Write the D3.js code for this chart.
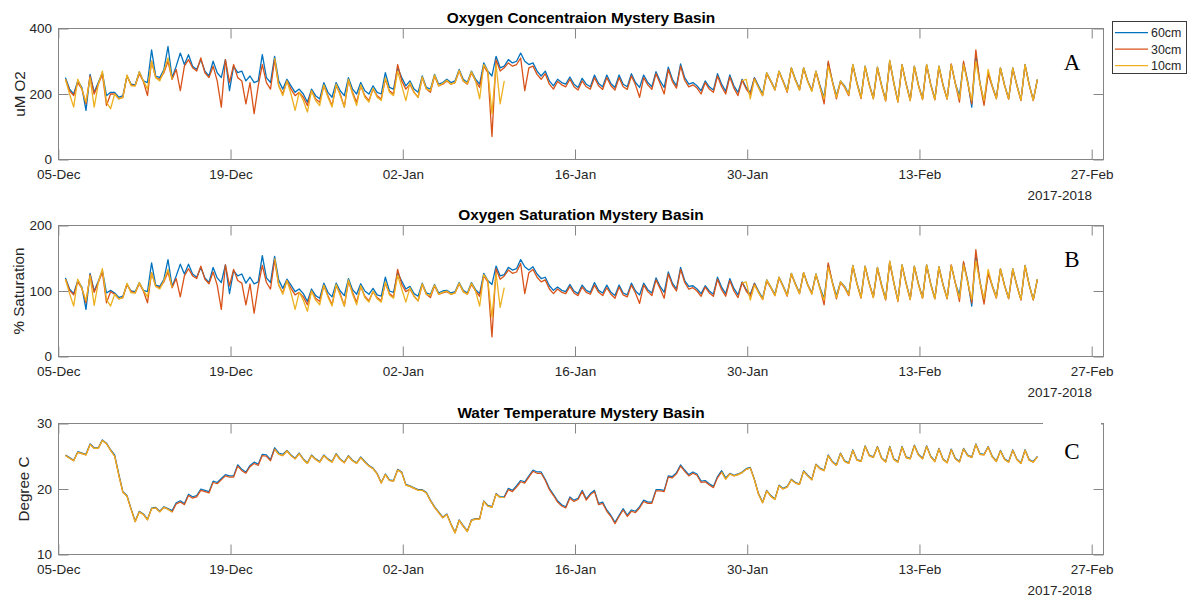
<!DOCTYPE html>
<html>
<head>
<meta charset="utf-8">
<script src="https://cdn.jsdelivr.net/npm/d3@7"></script>
<style>
  body { margin: 0; background: #fff; }
  svg text { font-family: "Liberation Sans", Arial, Helvetica, sans-serif; }
</style>
</head>
<body>
<svg id="chart" width="1192" height="601"></svg>
<script>
// Logger depths, drawn in this order (10cm ends up on top)
const depthNames = ["60cm", "30cm", "10cm"];
const depthColors = ["#0072BD", "#D95319", "#EDB120"];

// Samples every 8 hours starting 5 Dec 2017 14:00
const sampleStart = new Date(2017, 11, 5, 14);
const sampleStepHours = 8;

const dateTicks = [new Date(2017, 11, 5), new Date(2017, 11, 19), new Date(2018, 0, 2),
  new Date(2018, 0, 16), new Date(2018, 0, 30), new Date(2018, 1, 13), new Date(2018, 1, 27)];
const yearLabel = "2017-2018";

const concTicks = [0, 200, 400];
const satTicks = [0, 100, 200];
const tempTicks = [10, 20, 30];

// Dissolved oxygen, uM
const conc60 = [
  250,215,200, 240,220,150, 260,205,235, 265,195,205, 205,190,195, 255,230,228, 268,240,235, 335,255,250, 275,345,250, 285,325,290,
  320,285,275, 305,270,255, 300,265,250, 305,210,285, 265,270,240, 255,235,240, 320,250,235, 315,240,215, 245,225,205, 215,200,175,
  215,195,185, 235,205,190, 235,210,195, 250,215,200, 235,210,200, 225,205,200, 265,220,215, 280,250,225, 240,215,205, 255,220,215,
  260,230,235, 245,235,240, 275,245,235, 270,245,230, 295,270,255, 315,280,285, 305,295,300, 325,300,290, 295,270,255, 270,240,225,
  245,235,230, 252,230,220, 248,230,222, 258,232,222, 258,232,220, 258,230,222, 262,235,220, 258,235,222, 268,240,220, 282,245,225,
  292,250,230, 235,225,210, 240,222,212, 262,230,208, 258,225,205, 245,220,205, 250,225,200, 265,240,215, 270,240,210, 280,245,215,
  280,240,212, 270,225,190, 295,240,195, 240,225,200, 290,235,190, 285,230,188, 282,228,182, 302,235,178, 290,232,182, 285,228,186,
  290,230,185, 285,228,186, 290,232,195, 295,240,160, 320,235,175, 265,225,188, 280,228,186, 280,228,182, 290,230,182, 245
];
const conc30 = [
  245,210,195, 235,215,170, 255,200,230, 260,165,200, 200,185,190, 255,228,225, 262,238,195, 300,250,245, 265,300,245, 275,210,285,
  305,280,270, 310,265,250, 285,240,160, 305,235,290, 250,240,170, 235,140,225, 290,235,215, 305,225,200, 240,215,195, 205,190,165,
  210,185,175, 225,195,165, 225,200,160, 240,205,175, 225,195,180, 215,195,185, 245,210,200, 290,240,215, 230,205,190, 250,215,205,
  255,225,230, 240,230,235, 270,240,230, 265,240,220, 285,265,70, 305,270,280, 295,285,290, 310,210,280, 285,260,245, 262,230,215,
  238,228,222, 245,222,212, 240,222,215, 250,225,214, 250,225,212, 250,222,214, 255,228,190, 250,228,214, 262,232,200, 275,238,218,
  285,242,222, 228,218,200, 235,215,205, 255,222,200, 252,218,195, 242,215,198, 248,220,195, 262,238,212, 268,238,205, 278,242,212,
  278,238,210, 268,222,170, 300,238,185, 238,220,195, 288,232,186, 283,228,185, 280,225,178, 300,232,175, 288,230,180, 283,226,183,
  288,228,182, 283,226,184, 292,232,175, 300,235,170, 335,232,165, 262,222,185, 278,226,184, 278,226,180, 288,228,180, 243
];
const conc10 = [
  245,200,160, 245,215,175, 250,160,230, 270,175,155, 200,185,190, 258,225,225, 268,240,215, 300,250,240, 270,310,245, null,null,null,
  null,null,null, null,null,null, null,null,null, null,null,null, null,null,null, null,null,null, null,null,null, 310,225,195, 240,200,150, 205,180,145,
  210,180,165, 228,190,160, 230,195,160, 245,200,165, 228,190,175, 218,190,180, 250,205,195, 270,225,180, 235,205,190, 252,215,210,
  258,225,232, 242,230,235, 272,240,232, 268,240,185, 290,270,140, 290,170,240, null,null,null, null,null,null, null,null,null, null,null,null,
  null,null,null, null,null,null, null,null,null, null,null,null, null,null,null, null,null,null, null,null,null, null,null,null, null,null,null, null,null,null,
  null,null,null, null,null,null, null,null,null, null,null,null, null,null,null, 240,245,185, 245,220,195, 265,240,212, 270,238,208, 280,242,212,
  280,238,208, 270,220,185, 285,238,190, 240,222,198, 290,232,188, 285,228,186, 282,226,180, 303,234,176, 290,230,180, 285,226,184,
  290,228,183, 285,226,185, 290,232,185, 290,235,180, 300,232,180, 275,224,186, 280,226,185, 280,226,181, 290,228,181, 245
];

// Oxygen saturation, %
const sat60 = [
  120,103,96, 116,106,72, 127,100,115, 131,97,101, 97,90,92, 110,100,99, 113,101,99, 143,109,107, 118,148,107, 123,141,126,
  141,126,121, 136,120,113, 136,120,113, 140,96,131, 123,126,112, 121,111,114, 154,120,113, 153,117,104, 118,109,99, 103,96,84,
  103,93,89, 112,98,91, 112,100,93, 119,102,95, 111,100,95, 104,94,92, 121,100,98, 128,115,103, 107,96,92, 112,97,95,
  110,97,100, 101,97,99, 113,101,97, 113,102,96, 127,116,110, 138,123,125, 136,132,134, 148,137,132, 137,126,119, 121,108,101,
  106,101,99, 110,100,96, 109,101,98, 113,101,97, 109,98,93, 109,97,94, 112,100,94, 112,102,97, 120,107,98, 129,112,103,
  136,116,107, 108,103,96, 108,100,95, 121,106,96, 119,104,94, 114,102,95, 112,100,89, 117,106,95, 121,108,94, 127,111,97,
  128,110,97, 126,105,89, 140,114,93, 114,107,95, 139,112,91, 138,112,91, 136,110,88, 145,113,86, 140,112,88, 138,111,90,
  140,111,89, 137,110,89, 139,112,94, 143,116,77, 156,115,85, 128,109,91, 134,109,89, 134,109,87, 139,110,87, 118
];
const sat30 = [
  118,101,94, 114,104,82, 125,98,113, 129,82,99, 95,88,90, 110,99,97, 111,100,82, 128,107,105, 114,129,105, 119,91,123,
  134,123,119, 138,118,111, 129,109,72, 140,108,133, 116,112,79, 111,66,107, 139,113,103, 148,109,97, 116,104,94, 98,91,79,
  100,89,84, 108,93,79, 108,96,77, 114,98,83, 107,92,85, 99,90,85, 112,96,91, 133,110,99, 103,92,85, 110,95,90,
  108,95,97, 99,95,97, 111,99,95, 110,100,92, 123,114,30, 134,118,123, 132,127,129, 142,96,128, 133,121,114, 117,103,96,
  103,98,96, 107,97,93, 106,98,95, 109,98,93, 105,95,89, 106,94,91, 109,97,81, 109,99,93, 117,104,89, 126,109,100,
  133,113,103, 105,100,92, 106,97,92, 118,102,92, 116,100,90, 113,100,92, 111,98,87, 115,105,93, 120,107,92, 126,110,96,
  128,109,96, 125,104,79, 143,113,88, 113,105,93, 138,111,89, 137,111,90, 135,108,86, 144,112,84, 139,111,87, 137,110,89,
  139,110,88, 136,109,88, 140,112,84, 145,114,82, 163,113,80, 127,107,89, 133,108,88, 133,108,86, 138,109,86, 117
];
const sat10 = [
  118,96,77, 118,104,85, 123,78,113, 134,87,77, 95,88,90, 112,97,97, 113,101,91, 128,107,103, 116,133,105, null,null,null,
  null,null,null, null,null,null, null,null,null, null,null,null, null,null,null, null,null,null, null,null,null, 150,109,95, 116,97,72, 98,86,69,
  100,86,79, 109,91,77, 110,93,77, 117,95,79, 108,90,83, 100,88,83, 114,94,89, 124,103,83, 105,92,85, 111,95,93,
  109,95,98, 100,95,97, 112,99,95, 112,100,77, 125,116,60, 127,75,105, null,null,null, null,null,null, null,null,null, null,null,null,
  null,null,null, null,null,null, null,null,null, null,null,null, null,null,null, null,null,null, null,null,null, null,null,null, null,null,null, null,null,null,
  null,null,null, null,null,null, null,null,null, null,null,null, null,null,null, 112,114,86, 109,98,87, 117,106,93, 121,107,93, 127,110,96,
  128,109,95, 126,103,86, 136,113,90, 114,106,94, 139,111,90, 138,111,90, 136,109,87, 146,113,85, 140,111,87, 138,110,89,
  140,110,88, 137,109,89, 139,112,89, 140,114,87, 146,113,88, 133,108,90, 134,108,89, 134,108,87, 139,109,87, 118
];

// Water temperature, degrees C
const temp60 = [
  25.2,24.8,24.4, 25.7,25.5,25.3, 26.9,26.3,26.3, 27.5,27.0,26.0, 25.2,22.3,19.6, 19.0,17.0,15.1, 16.6,16.2,15.4, 17.1,17.2,16.6, 17.3,17.0,16.7, 17.9,18.2,17.8,
  19.2,18.8,19.0, 20.0,19.8,19.6, 21.2,21.0,21.6, 22.2,22.0,22.0, 23.7,23.0,22.6, 23.6,24.1,23.8, 25.3,25.2,24.5, 26.3,25.5,25.3, 25.9,25.2,24.7, 25.5,24.6,24.0,
  25.2,24.6,24.2, 25.2,24.6,24.2, 25.4,24.6,24.1, 25.1,24.4,24.0, 24.9,24.2,23.6, 23.2,22.4,21.0, 22.3,21.4,21.3, 23.0,22.6,20.7, 20.5,20.2,19.9, 19.9,19.5,18.3,
  17.3,16.5,15.7, 16.2,14.7,13.4, 15.3,14.4,13.6, 15.3,15.5,15.5, 18.2,17.5,17.3, 19.3,18.8,18.8, 20.1,19.8,20.5, 21.3,21.1,22.0, 22.9,22.6,22.6, 21.5,20.1,19.2,
  18.2,17.6,17.3, 18.8,18.3,18.6, 19.8,18.5,19.3, 19.8,17.8,18.0, 16.8,16.0,14.9, 16.0,17.0,16.0, 16.8,16.6,17.3, 18.3,18.0,18.0, 19.9,19.9,19.8, 22.0,21.9,22.5,
  23.7,22.9,22.2, 22.6,22.3,21.2, 21.3,20.8,20.4, 21.9,22.8,21.7, 22.4,22.1,22.3, 22.6,23.1,23.3, 21.5,19.3,18.0, 19.8,19.0,18.5, 20.6,20.1,20.4, 21.5,21.0,20.8,
  22.8,22.1,21.5, 23.8,23.2,22.9, 25.2,24.2,23.7, 25.5,24.3,24.0, 26.0,24.5,24.3, 26.6,25.2,24.9, 26.5,24.8,24.2, 26.5,24.6,24.2, 26.5,24.9,24.7, 26.7,25.3,24.7,
  26.6,25.0,24.3, 26.2,24.6,24.1, 26.1,24.7,24.2, 26.2,25.2,24.9, 26.9,25.4,25.3, 26.5,25.0,24.3, 25.9,24.6,24.2, 26.0,24.6,24.0, 26.0,24.5,24.2, 25.0
];
const temp30 = [
  25.1,24.7,24.3, 25.6,25.4,25.2, 26.8,26.2,26.2, 27.4,26.9,25.9, 25.0,22.1,19.5, 18.9,16.9,15.0, 16.5,16.1,15.3, 17.0,17.1,16.5, 17.2,16.9,16.5, 17.7,18.0,17.6,
  19.0,18.6,18.8, 19.8,19.6,19.4, 21.0,20.8,21.4, 22.0,21.8,21.8, 23.5,22.8,22.4, 23.4,23.9,23.6, 25.1,25.0,24.3, 26.1,25.3,25.1, 25.8,25.1,24.6, 25.4,24.5,23.9,
  25.1,24.5,24.1, 25.1,24.5,24.1, 25.3,24.5,24.0, 25.0,24.3,23.9, 24.8,24.1,23.5, 23.1,22.3,20.9, 22.2,21.3,21.2, 22.9,22.5,20.6, 20.4,20.1,19.8, 19.8,19.4,18.2,
  17.2,16.4,15.6, 16.1,14.6,13.3, 15.2,14.3,13.5, 15.2,15.4,15.4, 18.1,17.4,17.2, 19.2,18.7,18.7, 19.9,19.6,20.3, 21.1,20.9,21.8, 22.7,22.4,22.4, 21.3,19.9,19.0,
  18.0,17.4,17.1, 18.6,18.1,18.4, 19.6,18.3,19.1, 19.6,17.6,17.8, 16.6,15.8,14.7, 15.8,16.8,15.8, 16.6,16.4,17.1, 18.1,17.8,17.8, 19.7,19.7,19.6, 21.8,21.7,22.3,
  23.5,22.7,22.0, 22.4,22.1,21.0, 21.1,20.6,20.2, 21.7,22.6,21.5, 22.3,22.0,22.2, 22.5,23.0,23.2, 21.4,19.2,17.9, 19.7,18.9,18.4, 20.5,20.0,20.3, 21.4,20.9,20.7,
  22.7,22.0,21.4, 23.7,23.1,22.8, 25.1,24.1,23.6, 25.4,24.2,23.9, 25.9,24.4,24.2, 26.5,25.1,24.8, 26.4,24.7,24.1, 26.4,24.5,24.1, 26.4,24.8,24.6, 26.6,25.2,24.6,
  26.5,24.9,24.2, 26.1,24.5,24.0, 26.0,24.6,24.1, 26.1,25.1,24.8, 26.8,25.3,25.2, 26.4,24.9,24.2, 25.8,24.5,24.1, 25.9,24.5,23.9, 25.9,24.4,24.1, 24.9
];
const temp10 = [
  25.1,24.7,24.3, 25.6,25.4,25.2, 26.8,26.2,26.2, 27.4,26.9,25.9, 25.0,22.1,19.5, 18.9,16.9,15.0, 16.5,16.1,15.3, 17.0,17.1,16.5, 17.2,16.9,16.5, null,null,null,
  null,null,null, null,null,null, null,null,null, null,null,null, null,null,null, null,null,null, null,null,null, 26.1,25.3,25.1, 25.8,25.1,24.6, 25.4,24.5,23.9,
  25.1,24.5,24.1, 25.1,24.5,24.1, 25.3,24.5,24.0, 25.0,24.3,23.9, 24.8,24.1,23.5, 23.1,22.3,20.9, 22.2,21.3,21.2, 22.9,22.5,20.6, 20.4,20.1,19.8, 19.8,19.4,18.2,
  17.2,16.4,15.6, 16.1,14.6,13.3, 15.2,14.3,13.5, 15.2,15.4,15.4, 18.1,17.4,17.2, 19.2,18.7,18.7, null,null,null, null,null,null, null,null,null, null,null,null,
  null,null,null, null,null,null, null,null,null, null,null,null, null,null,null, null,null,null, null,null,null, null,null,null, null,null,null, null,null,null,
  null,null,null, null,null,null, null,null,null, null,22.6,21.5, 22.3,22.0,22.2, 22.5,23.0,23.2, 21.4,19.2,17.9, 19.7,18.9,18.4, 20.5,20.0,20.3, 21.4,20.9,20.7,
  22.7,22.0,21.4, 23.7,23.1,22.8, 25.1,24.1,23.6, 25.4,24.2,23.9, 25.9,24.4,24.2, 26.5,25.1,24.8, 26.4,24.7,24.1, 26.4,24.5,24.1, 26.4,24.8,24.6, 26.6,25.2,24.6,
  26.5,24.9,24.2, 26.1,24.5,24.0, 26.0,24.6,24.1, 26.1,25.1,24.8, 26.8,25.3,25.2, 26.4,24.9,24.2, 25.8,24.5,24.1, 25.9,24.5,23.9, 25.9,24.4,24.1, 24.9
];

// ---- layout ----
const svg = d3.select("#chart");
svg.append("rect").attr("width", 1192).attr("height", 601).attr("fill", "#fff");

const left = 58.5, right = 1103.5;
const x = d3.scaleTime()
  .domain([new Date(2017, 11, 5), new Date(2018, 1, 28)])
  .range([58.3, 1104]);

const frameColor = "#858585";
const labelColor = "#262626";

const panels = [
  { top: 28.5, bottom: 159.5, title: "Oxygen Concentraion Mystery Basin", ylabel: "uM O2", ylabelX: 25,
    domain: [0, 400], ticks: concTicks, series: [conc60, conc30, conc10], letter: "A", letterY: 69.5, lineWidth: 1.3 },
  { top: 225.5, bottom: 356.5, title: "Oxygen Saturation Mystery Basin", ylabel: "% Saturation", ylabelX: 23.5,
    domain: [0, 200], ticks: satTicks, series: [sat60, sat30, sat10], letter: "B", letterY: 266.5, lineWidth: 1.3 },
  { top: 423.5, bottom: 554.5, title: "Water Temperature Mystery Basin", ylabel: "Degree C", ylabelX: 28.5,
    domain: [10, 30], ticks: tempTicks, series: [temp60, temp30, temp10], letter: "C", letterY: 459, lineWidth: 1.2, coverTop: true }
];

const timeAt = i => new Date(sampleStart.getTime() + i * sampleStepHours * 3600 * 1000);
const fmt = d3.timeFormat("%d-%b");

panels.forEach(p => {
  const y = d3.scaleLinear().domain(p.domain).range([p.bottom, p.top]);
  const g = svg.append("g");

  // data lines
  const line = d3.line()
    .defined(d => d != null)
    .x((d, i) => x(timeAt(i)))
    .y(d => y(d));
  p.series.forEach((vals, k) => {
    g.append("path")
      .datum(vals)
      .attr("fill", "none")
      .attr("stroke", depthColors[k])
      .attr("stroke-width", p.lineWidth)
      .attr("stroke-linejoin", "round")
      .attr("d", line);
  });

  // bottom axis with labels, inward ticks
  const bx = g.append("g").attr("transform", `translate(0,${p.bottom})`)
    .call(d3.axisBottom(x).tickValues(dateTicks).tickFormat(fmt)
      .tickSizeInner(-10).tickSizeOuter(0).tickPadding(10));
  // top mirrored ticks
  const tx = g.append("g").attr("transform", `translate(0,${p.top})`)
    .call(d3.axisTop(x).tickValues(dateTicks).tickFormat("")
      .tickSizeInner(-10).tickSizeOuter(0));
  const ly = g.append("g").attr("transform", `translate(${left},0)`)
    .call(d3.axisLeft(y).tickValues(p.ticks).tickFormat(d3.format("d"))
      .tickSizeInner(-10).tickSizeOuter(0).tickPadding(6.5));
  const ry = g.append("g").attr("transform", `translate(${right},0)`)
    .call(d3.axisRight(y).tickValues(p.ticks).tickFormat("")
      .tickSizeInner(-10).tickSizeOuter(0));
  [bx, tx, ly, ry].forEach(a => {
    a.select(".domain").remove();
    a.selectAll(".tick line").attr("stroke", frameColor).attr("stroke-width", 1);
    a.selectAll(".tick text")
      .attr("fill", labelColor)
      .style("font-size", "13.5px")
      .style("font-family", '"Liberation Sans", Arial, sans-serif');
  });

  // axes box
  g.append("rect")
    .attr("x", left).attr("y", p.top)
    .attr("width", right - left).attr("height", p.bottom - p.top)
    .attr("fill", "none").attr("stroke", frameColor).attr("stroke-width", 1);

  // year label under the date axis
  g.append("text")
    .attr("x", 1092).attr("y", p.bottom + 40.5)
    .attr("text-anchor", "end")
    .attr("fill", labelColor)
    .style("font-size", "13.5px")
    .text(yearLabel);

  // title
  g.append("text")
    .attr("x", (left + right) / 2).attr("y", p.top - 5.5)
    .attr("text-anchor", "middle")
    .attr("fill", "#000")
    .style("font-size", "15.4px").style("font-weight", "bold")
    .text(p.title);

  // y label
  g.append("text")
    .attr("transform", `translate(${p.ylabelX},${(p.top + p.bottom) / 2}) rotate(-90)`)
    .attr("text-anchor", "middle")
    .attr("fill", labelColor)
    .style("font-size", "15.2px")
    .text(p.ylabel);

  // panel letter on a white card
  if (p.coverTop) {
    g.append("rect").attr("x", 1043).attr("y", 418).attr("width", 58).attr("height", 48).attr("fill", "#fff");
  }
  g.append("text")
    .attr("x", 1072).attr("y", p.letterY)
    .attr("text-anchor", "middle")
    .attr("fill", "#000")
    .style("font-family", '"Liberation Serif", "Times New Roman", serif')
    .style("font-size", "23px")
    .text(p.letter);
});

// legend
const legend = svg.append("g");
legend.append("rect")
  .attr("x", 1112.5).attr("y", 21.5).attr("width", 74).attr("height", 52)
  .attr("fill", "#fff").attr("stroke", "#3a3a3a").attr("stroke-width", 1);
depthNames.forEach((name, k) => {
  const ry = 32.7 + k * 16.5;
  legend.append("line")
    .attr("x1", 1115).attr("x2", 1148).attr("y1", ry).attr("y2", ry)
    .attr("stroke", depthColors[k]).attr("stroke-width", 1.3);
  legend.append("text")
    .attr("x", 1151).attr("y", ry + 4.5)
    .attr("fill", labelColor)
    .style("font-size", "12.4px")
    .text(name);
});
</script>
</body>
</html>
